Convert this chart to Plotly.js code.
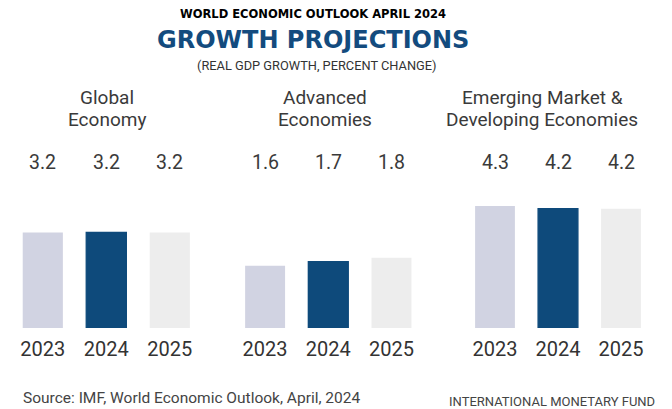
<!DOCTYPE html>
<html>
<head>
<meta charset="utf-8">
<script src="https://cdn.plot.ly/plotly-3.0.1.min.js"></script>
<style>html,body{margin:0;padding:0;background:#fff;}#chart{width:672px;height:409px;}</style>
</head>
<body>
<div id="chart"></div>
<script>
// ---- data ----
const years = ["2023", "2024", "2025"];
const panelNames = ["Global Economy", "Advanced Economies", "Emerging Market & Developing Economies"];
const panelTitleLines = [["Global", "Economy"], ["Advanced", "Economies"], ["Emerging Market &", "Developing Economies"]];
const globalValues = [3.2, 3.2, 3.2];
const advancedValues = [1.6, 1.7, 1.8];
const emdeValues = [4.3, 4.2, 4.2];
const seriesValues = [globalValues, advancedValues, emdeValues];
const topLine = "WORLD ECONOMIC OUTLOOK APRIL 2024";
const mainTitle = "GROWTH PROJECTIONS";
const subTitle = "(REAL GDP GROWTH, PERCENT CHANGE)";
const sourceText = "Source: IMF, World Economic Outlook, April, 2024";
const orgText = "INTERNATIONAL MONETARY FUND";

// ---- styling ----
const W = 672, H = 409;
const px = v => v / W;
const py = v => 1 - v / H;
const yearColors = ["#d1d3e2", "#0e4a7b", "#ededed"];
const lineWidths = [0, 1.3, 0];
const xDomains = [[11.05, 201.55], [233.5, 423.1], [463.5, 652.5]];
const yRanges = [[0, 4.625], [0, 3.54], [0, 4.86]];
const yDomain = [py(328), py(190)];
const titleX = [106.7, 325, 542];
const textColor = "#3a3a3a";
const RF = "Roboto, 'Open Sans', sans-serif";

const traces = [];
const layout = {
  width: W, height: H,
  margin: {l: 0, r: 0, t: 0, b: 0, pad: 0},
  paper_bgcolor: "#ffffff", plot_bgcolor: "#ffffff",
  showlegend: false,
  bargap: 0,
  annotations: []
};

seriesValues.forEach((vals, i) => {
  const sfx = i === 0 ? "" : String(i + 1);
  traces.push({
    type: "bar",
    x: years,
    y: vals,
    name: panelNames[i],
    xaxis: "x" + sfx,
    yaxis: "y" + sfx,
    width: 0.632,
    marker: {color: yearColors, line: {color: yearColors, width: lineWidths}},
    hoverinfo: "x+y"
  });
  layout["xaxis" + sfx] = {
    domain: xDomains[i].map(px),
    type: "category",
    range: [-0.5, 2.5],
    anchor: "y" + sfx,
    showgrid: false, zeroline: false, showline: false,
    ticks: "",
    ticklabelstandoff: 7,
    tickfont: {family: RF, size: 20, color: "#333333"},
    fixedrange: true
  };
  layout["yaxis" + sfx] = {
    domain: yDomain,
    range: yRanges[i],
    anchor: "x" + sfx,
    visible: false,
    fixedrange: true
  };
  // panel titles
  panelTitleLines[i].forEach((ln, k) => {
    layout.annotations.push({
      text: ln, xref: "paper", yref: "paper",
      x: px(titleX[i]), y: py(k === 0 ? 97.5 : 119.8),
      xanchor: "center", yanchor: "middle", showarrow: false,
      font: {family: RF, size: 19, color: textColor}
    });
  });
  // value labels (category index on the panel's x axis)
  vals.forEach((v, j) => {
    layout.annotations.push({
      text: v.toFixed(1), xref: "x" + sfx, yref: "paper",
      x: j, y: py(162.7),
      xanchor: "center", yanchor: "middle", showarrow: false,
      font: {family: RF, size: 19.5, color: textColor}
    });
  });
});

layout.annotations.push(
  {text: topLine, xref: "paper", yref: "paper", x: px(312.5), y: py(14), xanchor: "center", yanchor: "middle", showarrow: false,
   font: {family: "'DejaVu Sans', sans-serif", size: 11.5, color: "#000000", weight: 700}},
  {text: mainTitle, xref: "paper", yref: "paper", x: px(313.3), y: py(40), xanchor: "center", yanchor: "middle", showarrow: false,
   font: {family: "'DejaVu Sans', sans-serif", size: 24, color: "#134b7e", weight: 700}},
  {text: subTitle, xref: "paper", yref: "paper", x: px(316.7), y: py(65.5), xanchor: "center", yanchor: "middle", showarrow: false,
   font: {family: RF, size: 12.8, color: "#333333"}},
  {text: sourceText, xref: "paper", yref: "paper", x: px(20.7), y: py(398), xanchor: "left", yanchor: "middle", showarrow: false,
   font: {family: RF, size: 15.5, color: "#444444"}},
  {text: orgText, xref: "paper", yref: "paper", x: px(656.7), y: py(401), xanchor: "right", yanchor: "middle", showarrow: false,
   font: {family: RF, size: 13, color: "#444444"}}
);

Plotly.newPlot("chart", traces, layout, {displayModeBar: false, staticPlot: true});
</script>
</body>
</html>
